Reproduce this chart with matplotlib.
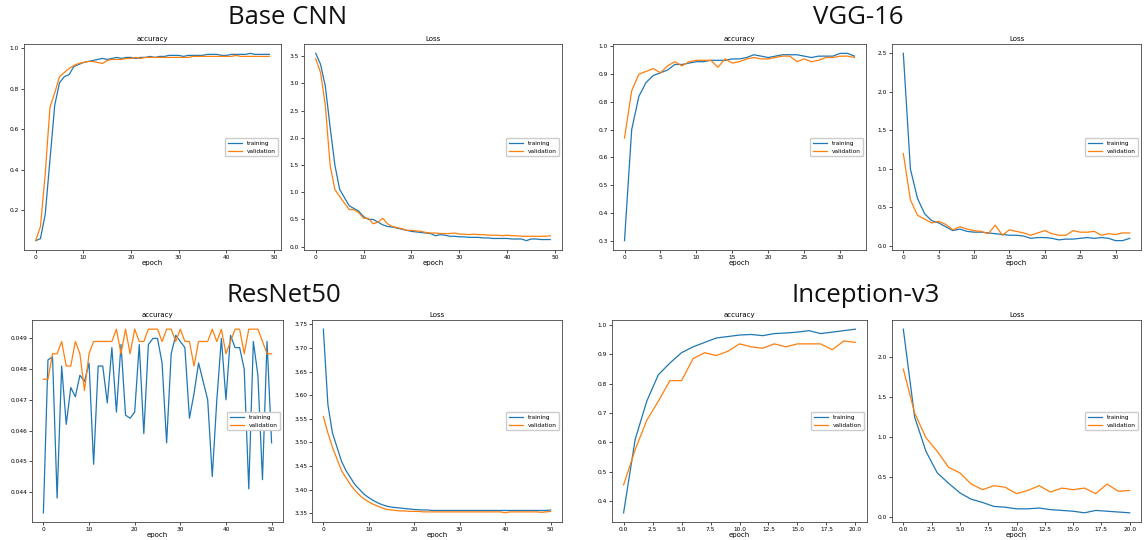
import matplotlib.pyplot as plt

# Base CNN (50 epochs)
cnn_acc_train = [0.05, 0.06, 0.18, 0.45, 0.72, 0.83, 0.86, 0.87, 0.91, 0.92, 0.93, 0.935, 0.94, 0.945, 0.95,
                 0.945, 0.95, 0.955, 0.95, 0.955, 0.955, 0.95, 0.955, 0.955, 0.96, 0.955, 0.96, 0.96, 0.965, 0.965,
                 0.965, 0.96, 0.965, 0.965, 0.965, 0.965, 0.97, 0.97, 0.97, 0.965, 0.965, 0.97, 0.97, 0.97, 0.97,
                 0.975, 0.97, 0.97, 0.97, 0.97]
cnn_acc_val = [0.05, 0.12, 0.38, 0.71, 0.78, 0.86, 0.88, 0.90, 0.915, 0.925, 0.93, 0.935, 0.935, 0.93, 0.925,
               0.94, 0.945, 0.945, 0.945, 0.95, 0.95, 0.955, 0.95, 0.955, 0.955, 0.955, 0.955, 0.955, 0.955, 0.955,
               0.955, 0.955, 0.955, 0.96, 0.96, 0.96, 0.96, 0.96, 0.96, 0.96, 0.96, 0.96, 0.965, 0.96, 0.96,
               0.96, 0.96, 0.96, 0.96, 0.96]
cnn_loss_train = [3.55, 3.35, 2.95, 2.2, 1.5, 1.05, 0.9, 0.75, 0.7, 0.65, 0.55, 0.5, 0.5, 0.45, 0.4,
                  0.37, 0.36, 0.34, 0.32, 0.3, 0.28, 0.27, 0.26, 0.25, 0.24, 0.2, 0.22, 0.21, 0.19, 0.19,
                  0.18, 0.18, 0.17, 0.17, 0.17, 0.16, 0.16, 0.15, 0.15, 0.15, 0.15, 0.14, 0.14, 0.14, 0.11,
                  0.14, 0.14, 0.13, 0.13, 0.13]
cnn_loss_val = [3.45, 3.2, 2.6, 1.5, 1.05, 0.92, 0.8, 0.68, 0.68, 0.62, 0.52, 0.52, 0.42, 0.45, 0.52,
                0.42, 0.37, 0.35, 0.33, 0.3, 0.3, 0.29, 0.28, 0.26, 0.25, 0.25, 0.24, 0.24, 0.24, 0.25,
                0.23, 0.23, 0.22, 0.23, 0.22, 0.22, 0.21, 0.21, 0.21, 0.2, 0.21, 0.2, 0.2, 0.19, 0.19,
                0.19, 0.19, 0.19, 0.19, 0.2]

# VGG-16 (33 epochs)
vgg_acc_train = [0.30, 0.70, 0.82, 0.87, 0.895, 0.905, 0.915, 0.935, 0.935, 0.94, 0.945, 0.945, 0.95, 0.95,
                 0.95, 0.955, 0.955, 0.96, 0.97, 0.965, 0.96, 0.965, 0.97, 0.97, 0.97, 0.965, 0.96, 0.965,
                 0.965, 0.965, 0.975, 0.975, 0.965]
vgg_acc_val = [0.67, 0.84, 0.90, 0.91, 0.92, 0.905, 0.93, 0.945, 0.93, 0.945, 0.95, 0.95, 0.95, 0.925,
               0.955, 0.94, 0.945, 0.955, 0.96, 0.955, 0.955, 0.96, 0.965, 0.965, 0.945, 0.955, 0.945, 0.95,
               0.96, 0.96, 0.965, 0.965, 0.96]
vgg_loss_train = [2.5, 1.0, 0.62, 0.42, 0.33, 0.3, 0.25, 0.2, 0.22, 0.19, 0.18, 0.18, 0.17, 0.16, 0.15,
                  0.14, 0.14, 0.13, 0.1, 0.11, 0.11, 0.1, 0.08, 0.09, 0.09, 0.1, 0.11, 0.1, 0.11, 0.1,
                  0.07, 0.07, 0.1]
vgg_loss_val = [1.2, 0.6, 0.4, 0.35, 0.3, 0.32, 0.28, 0.21, 0.25, 0.22, 0.2, 0.19, 0.16, 0.27, 0.14,
                0.21, 0.19, 0.17, 0.14, 0.17, 0.2, 0.16, 0.14, 0.14, 0.2, 0.18, 0.18, 0.19, 0.14, 0.16,
                0.15, 0.17, 0.17]

# ResNet50 (51 epochs)
res_acc_train = [0.04332, 0.0483, 0.0484, 0.0438, 0.0481, 0.0462, 0.0474, 0.0471, 0.0478, 0.0476, 0.0482,
                 0.0449, 0.0481, 0.0481, 0.0469, 0.0487, 0.0466, 0.0488, 0.0465, 0.0464, 0.0466, 0.0488,
                 0.0459, 0.0488, 0.0490, 0.0490, 0.0482, 0.0456, 0.0485, 0.0491, 0.0489, 0.0487, 0.0464,
                 0.0472, 0.0482, 0.0476, 0.0470, 0.0445, 0.0470, 0.0490, 0.0470, 0.0491, 0.0487, 0.0487,
                 0.0480, 0.0441, 0.0489, 0.0478, 0.0444, 0.0489, 0.0456]
res_acc_val = [0.04767, 0.04767, 0.0485, 0.0485, 0.0489, 0.0481, 0.0481, 0.0489, 0.0485, 0.0473, 0.0485,
               0.0489, 0.0489, 0.0489, 0.0489, 0.0489, 0.0493, 0.0485, 0.0493, 0.0485, 0.0493, 0.0489,
               0.0489, 0.0493, 0.0493, 0.0493, 0.0489, 0.0493, 0.0493, 0.0489, 0.0493, 0.0489, 0.0489,
               0.0481, 0.0489, 0.0489, 0.0489, 0.0493, 0.0489, 0.0493, 0.0485, 0.0489, 0.0493, 0.0493,
               0.0485, 0.0493, 0.0493, 0.0493, 0.0489, 0.0485, 0.0485]
res_loss_train = [3.74, 3.58, 3.52, 3.49, 3.46, 3.44, 3.425, 3.41, 3.40, 3.39, 3.383, 3.377, 3.372, 3.368,
                  3.365, 3.363, 3.362, 3.361, 3.360, 3.359, 3.358, 3.3575, 3.357, 3.357, 3.356, 3.356,
                  3.356, 3.356, 3.356, 3.356, 3.356, 3.356, 3.356, 3.356, 3.356, 3.356, 3.356, 3.356,
                  3.356, 3.356, 3.356, 3.356, 3.356, 3.356, 3.356, 3.356, 3.356, 3.356, 3.356, 3.356, 3.357]
res_loss_val = [3.555, 3.52, 3.49, 3.465, 3.44, 3.425, 3.41, 3.398, 3.388, 3.38, 3.374, 3.369, 3.365,
                3.361, 3.358, 3.357, 3.356, 3.355, 3.355, 3.354, 3.354, 3.354, 3.353, 3.353, 3.353, 3.353,
                3.353, 3.353, 3.353, 3.353, 3.353, 3.353, 3.353, 3.353, 3.353, 3.353, 3.353, 3.353, 3.353,
                3.353, 3.351, 3.353, 3.353, 3.353, 3.353, 3.353, 3.353, 3.353, 3.352, 3.353, 3.354]

# Inception-v3 (21 epochs)
inc_acc_train = [0.36, 0.61, 0.74, 0.83, 0.87, 0.905, 0.925, 0.94, 0.955, 0.96, 0.965, 0.967, 0.963, 0.97,
                 0.972, 0.975, 0.98, 0.97, 0.975, 0.98, 0.985]
inc_acc_val = [0.455, 0.575, 0.675, 0.74, 0.81, 0.81, 0.885, 0.905, 0.895, 0.91, 0.935, 0.925, 0.92, 0.935,
               0.925, 0.935, 0.935, 0.935, 0.915, 0.945, 0.94]
inc_loss_train = [2.35, 1.25, 0.82, 0.55, 0.42, 0.3, 0.22, 0.18, 0.13, 0.12, 0.1, 0.1, 0.11, 0.09, 0.08,
                  0.07, 0.05, 0.08, 0.07, 0.06, 0.05]
inc_loss_val = [1.85, 1.3, 0.99, 0.82, 0.62, 0.55, 0.41, 0.34, 0.39, 0.37, 0.29, 0.33, 0.39, 0.31, 0.36,
                0.34, 0.36, 0.29, 0.41, 0.32, 0.33]

models = [
    ("Base CNN", cnn_acc_train, cnn_acc_val, cnn_loss_train, cnn_loss_val),
    ("VGG-16", vgg_acc_train, vgg_acc_val, vgg_loss_train, vgg_loss_val),
    ("ResNet50", res_acc_train, res_acc_val, res_loss_train, res_loss_val),
    ("Inception-v3", inc_acc_train, inc_acc_val, inc_loss_train, inc_loss_val),
]

W, H = 1145, 540
fig = plt.figure(figsize=(W / 100, H / 100), dpi=100)

# pixel boxes (left, right, top, bottom) for accuracy / loss axes, and title centre
boxes = [
    ((24, 281, 44, 250), (304, 562, 44, 250), (288, 18)),
    ((613, 866, 44, 250), (892, 1141, 44, 250), (858, 18)),
    ((32, 283, 320, 522), (312, 562, 320, 522), (284, 296)),
    ((612, 867, 320, 522), (892, 1141, 320, 522), (866, 296)),
]


def add_ax(l, r, t, b):
    return fig.add_axes([l / W, 1 - b / H, (r - l) / W, (b - t) / H])


for (name, at, av, lt, lv), (abox, lbox, tpos) in zip(models, boxes):
    fig.text(tpos[0] / W, 1 - tpos[1] / H, name, ha="center", va="center",
             fontsize=18.5, family="Open Sans", color="#111111")
    for box, tr, va, ttl in [(abox, at, av, "accuracy"), (lbox, lt, lv, "Loss")]:
        ax = add_ax(*box)
        ax.plot(range(len(tr)), tr, color="#1f77b4", lw=0.9, label="training")
        ax.plot(range(len(va)), va, color="#ff7f0e", lw=0.9, label="validation")
        ax.set_title(ttl, fontsize=5, pad=2)
        ax.set_xlabel("epoch", fontsize=5, labelpad=0)
        ax.tick_params(labelsize=4.2, length=2, width=0.5, pad=1.5)
        for s in ax.spines.values():
            s.set_linewidth(0.6)
            s.set_color("#444444")
        ax.legend(loc="center right", fontsize=4.2, handlelength=2.5, borderpad=0.4,
                  framealpha=1, edgecolor="#cccccc", fancybox=True)

fig.savefig("out.png", dpi=100)
